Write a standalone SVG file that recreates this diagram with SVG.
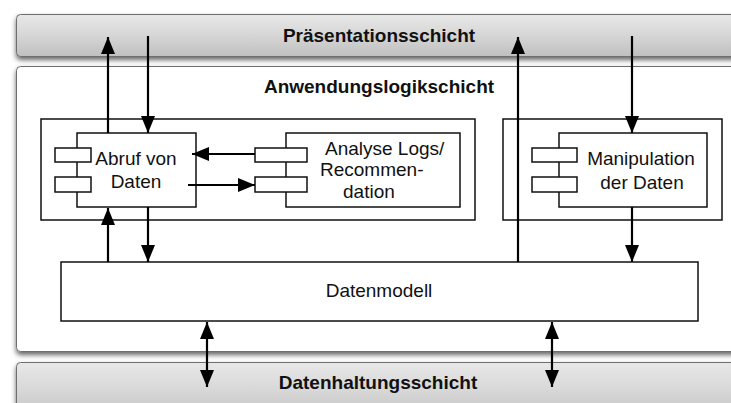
<svg xmlns="http://www.w3.org/2000/svg" width="731" height="403" viewBox="0 0 731 403">
<style>
.layer{stroke:#6e6e6e;stroke-width:1;}
.title{font-family:"Liberation Sans",Arial,Helvetica,sans-serif;font-weight:bold;font-size:19px;fill:#111;text-anchor:middle;}
.lbl{font-family:"Liberation Sans",Arial,Helvetica,sans-serif;font-size:19px;fill:#111;}
.mid{text-anchor:middle;}
.box{fill:#fff;stroke:#111;stroke-width:1.5;}
.port{fill:#fff;stroke:#111;stroke-width:1.5;}
.conn{stroke:#000;stroke-width:2.2;fill:none;}
</style>
<defs>
<linearGradient id="gray" x1="0" y1="0" x2="0" y2="1">
<stop offset="0" stop-color="#e8e8e8"/>
<stop offset="0.5" stop-color="#d6d6d6"/>
<stop offset="1" stop-color="#bfbfbf"/>
</linearGradient>
<filter id="shadow" x="-5%" y="-20%" width="110%" height="150%">
<feDropShadow dx="0" dy="3" stdDeviation="2.5" flood-color="#000" flood-opacity="0.6"/>
</filter>
<marker id="arr" viewBox="0 0 17 14" refX="17" refY="7" markerWidth="17" markerHeight="14" markerUnits="userSpaceOnUse" orient="auto-start-reverse">
<path d="M0,0 L17,7 L0,14 z" fill="#000"/>
</marker>
</defs>
<rect width="731" height="403" fill="#fff"/>

<g id="praesentation">
<rect class="layer" x="16.5" y="14.5" width="740" height="42" rx="4" fill="url(#gray)" filter="url(#shadow)"/>
<text class="title" x="379" y="42">Präsentationsschicht</text>
</g>

<g id="anwendungslogik">
<rect class="layer" x="16.5" y="66.5" width="740" height="285" rx="4" fill="#fff" filter="url(#shadow)"/>
<text class="title" x="379" y="93">Anwendungslogikschicht</text>
</g>

<g id="datenhaltung">
<rect class="layer" x="16.5" y="362.5" width="740" height="60" rx="4" fill="url(#gray)" filter="url(#shadow)"/>
<text class="title" x="378" y="389">Datenhaltungsschicht</text>
</g>

<g id="paket-links">
<rect class="box" x="41" y="119" width="434" height="101"/>
</g>
<g id="paket-rechts">
<rect class="box" x="503" y="119" width="219" height="101"/>
</g>

<g id="abruf">
<rect class="box" x="77" y="133" width="119" height="74"/>
<rect class="port" x="55" y="148" width="36" height="14"/>
<rect class="port" x="55" y="177" width="36" height="15"/>
<text class="lbl mid" x="136" y="165">Abruf von</text>
<text class="lbl mid" x="136" y="188">Daten</text>
</g>

<g id="analyse">
<rect class="box" x="286" y="133" width="174" height="74"/>
<rect class="port" x="255" y="148" width="52" height="14"/>
<rect class="port" x="255" y="177" width="52" height="15"/>
<text class="lbl" x="325" y="155">Analyse Logs/</text>
<text class="lbl" x="320" y="176">Recommen-</text>
<text class="lbl" x="343" y="198">dation</text>
</g>

<g id="manipulation">
<rect class="box" x="559" y="133" width="148" height="74"/>
<rect class="port" x="532" y="148" width="45" height="14"/>
<rect class="port" x="532" y="177" width="45" height="15"/>
<text class="lbl mid" x="641" y="165">Manipulation</text>
<text class="lbl mid" x="642" y="189">der Daten</text>
</g>

<g id="datenmodell">
<rect class="box" x="61" y="262" width="637" height="59"/>
<text class="lbl mid" x="379" y="297">Datenmodell</text>
</g>

<g id="connectors">
<line class="conn" x1="108" y1="262" x2="108" y2="208" marker-end="url(#arr)"/>
<line class="conn" x1="108" y1="133" x2="108" y2="37" marker-end="url(#arr)"/>
<line class="conn" x1="148" y1="36" x2="148" y2="133" marker-end="url(#arr)"/>
<line class="conn" x1="148" y1="207" x2="148" y2="262" marker-end="url(#arr)"/>
<line class="conn" x1="255" y1="154" x2="192" y2="154" marker-end="url(#arr)"/>
<line class="conn" x1="188" y1="185" x2="255" y2="185" marker-end="url(#arr)"/>
<line class="conn" x1="518" y1="262" x2="518" y2="37" marker-end="url(#arr)"/>
<line class="conn" x1="632" y1="36" x2="632" y2="133" marker-end="url(#arr)"/>
<line class="conn" x1="632" y1="207" x2="632" y2="262" marker-end="url(#arr)"/>
<line class="conn" x1="207" y1="322" x2="207" y2="387" marker-start="url(#arr)" marker-end="url(#arr)"/>
<line class="conn" x1="552" y1="322" x2="552" y2="387" marker-start="url(#arr)" marker-end="url(#arr)"/>
</g>
</svg>
